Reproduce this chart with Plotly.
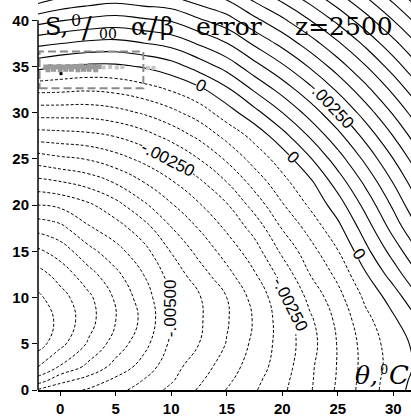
import numpy as np
import plotly.graph_objects as go

# Grid: potential temperature (deg C) columns, salinity (per mille) rows
theta = [-2, 0, 2.5, 5, 7.5, 10, 12.5, 15, 17.5, 20, 22.5, 25, 27.5, 30, 32]
salinity = [0, 1, 2.5, 5, 7.5, 10, 12.5, 15, 17.5, 20, 22.5, 25, 27.5, 30,
            32.5, 35, 37.5, 40, 42.5]

# alpha/beta error at z = 2500, units of 1e-3, one list per salinity row
err_s0 = [-5.95, -5.70, -5.45, -5.15, -4.80, -4.38, -3.95, -3.48, -3.05, -2.60, -2.05, -1.42, -0.775, -0.22, 0.175]
err_s1 = [-6.75, -6.125, -5.80, -5.375, -4.975, -4.55, -4.075, -3.60, -3.125, -2.65, -2.075, -1.45, -0.79, -0.25, 0.125]
err_s2p5 = [-7.50, -6.95, -6.375, -5.825, -5.30, -4.675, -4.25, -3.75, -3.25, -2.75, -2.10, -1.47, -0.825, -0.31, 0.05]
err_s5 = [-8.225, -7.65, -6.95, -6.275, -5.675, -4.90, -4.50, -3.975, -3.375, -2.80, -2.20, -1.47, -0.80, -0.26, 0.10]
err_s7p5 = [-8.30, -7.875, -7.20, -6.50, -5.875, -5.01, -4.575, -4.05, -3.45, -2.775, -2.10, -1.38, -0.65, -0.10, 0.40]
err_s10 = [-8.10, -7.70, -7.125, -6.425, -5.75, -5.00, -4.55, -4.00, -3.325, -2.675, -1.85, -1.175, -0.40, 0.225, 0.875]
err_s12p5 = [-7.70, -7.30, -6.70, -6.125, -5.50, -4.80, -4.225, -3.65, -3.05, -2.325, -1.50, -0.875, -0.05, 0.725, 1.40]
err_s15 = [-7.10, -6.775, -6.175, -5.675, -5.175, -4.475, -3.85, -3.30, -2.725, -1.90, -1.20, -0.525, 0.35, 1.20, 1.90]
err_s17p5 = [-6.35, -6.15, -5.575, -5.225, -4.725, -4.025, -3.475, -2.925, -2.325, -1.475, -0.825, -0.15, 0.735, 1.675, 2.425]
err_s20 = [-5.50, -5.40, -5.10, -4.675, -4.10, -3.55, -3.05, -2.55, -1.80, -1.05, -0.425, 0.25, 1.155, 2.09, 2.855]
err_s22p5 = [-4.65, -4.525, -4.30, -3.95, -3.50, -3.05, -2.60, -2.00, -1.30, -0.65, -0.10, 0.73, 1.615, 2.525, 3.265]
err_s25 = [-3.75, -3.60, -3.475, -3.20, -2.875, -2.50, -2.00, -1.425, -0.80, -0.275, 0.445, 1.265, 2.12, 2.995, 3.715]
err_s27p5 = [-2.75, -2.70, -2.625, -2.475, -2.20, -1.82, -1.385, -0.85, -0.345, 0.31, 1.055, 1.84, 2.66, 3.51, 4.21]
err_s30 = [-1.80, -1.80, -1.80, -1.675, -1.45, -1.14, -0.765, -0.24, 0.33, 0.99, 1.695, 2.445, 3.235, 4.055, 4.725]
err_s32p5 = [-0.875, -0.90, -0.95, -0.875, -0.70, -0.46, -0.125, 0.40, 1.065, 1.69, 2.36, 3.08, 3.84, 4.625, 5.28]
err_s35 = [0.15, 0.00, -0.10, -0.10, 0.04, 0.275, 0.70, 1.185, 1.815, 2.41, 3.05, 3.74, 4.465, 5.225, 5.86]
err_s37p5 = [1.125, 1.01, 0.885, 0.84, 0.98, 1.17, 1.555, 1.98, 2.585, 3.145, 3.76, 4.42, 5.115, 5.85, 6.46]
err_s40 = [2.20, 2.025, 1.89, 1.80, 1.92, 2.045, 2.425, 2.79, 3.365, 3.90, 4.49, 5.12, 5.79, 6.50, 7.09]
err_s42p5 = [3.30, 3.035, 2.86, 2.75, 2.865, 2.95, 3.295, 3.60, 4.16, 4.67, 5.23, 5.835, 6.48, 7.165, 7.735]

# Observed water-mass points (theta, S) and the highlighted sample
obs_theta = [-1.3, -0.9, -0.5, -0.1, 0.3, 0.7, 1.1, 1.5, 1.9, 2.3, 2.7, 3.1, 3.5,
             -1.1, -0.6, 0.0, 0.5, 1.0, 1.6, 2.1, 2.6, 3.2]
obs_sal = [34.95, 35.0, 34.95, 35.0, 34.95, 35.0, 34.95, 35.0, 35.05, 34.95, 35.0, 34.95, 35.0,
           34.65, 34.7, 34.65, 34.7, 34.7, 34.65, 34.7, 34.7, 34.65]
faint_theta = [3.9, 4.5, 5.1, 5.6, 7.9, 8.4]
faint_sal = [34.9, 34.95, 34.9, 34.95, 34.85, 34.85]
sample_theta = [0.07]
sample_sal = [34.23]

# Region enclosing the observations
box_theta = [-1.86, 7.49]
box_sal = [32.65, 36.63]

# Contour levels
level_step = 0.0005
neg_range = [-0.008, -0.0005]
pos_range = [0.0, 0.0075]

# Inline contour labels: text, theta, S, rotation (deg)
contour_labels = [
    ("0", 12.6, 32.9, 27),
    (".00250", 24.6, 30.6, 47),
    ("-.00250", 9.74, 24.95, 27),
    ("0", 20.97, 25.13, 45),
    ("0", 26.86, 14.72, 56),
    ("-.00500", 9.94, 8.81, -90),
    ("-.00250", 20.7, 9.24, 63),
]

rows = [err_s0, err_s1, err_s2p5, err_s5, err_s7p5, err_s10, err_s12p5, err_s15,
        err_s17p5, err_s20, err_s22p5, err_s25, err_s27p5, err_s30, err_s32p5,
        err_s35, err_s37p5, err_s40, err_s42p5]
z = np.array(rows) * 1e-3

W, H = 411, 417
ML, MB = 38, 24
PW, PH = W - ML, H - MB


def to_paper(x, y):
    return (x - ML) / PW, (H - MB - y) / PH


fig = go.Figure()

# Negative error: dashed isolines
fig.add_trace(go.Contour(
    x=theta, y=salinity, z=z, autocontour=False,
    contours=dict(start=neg_range[0], end=neg_range[1], size=level_step,
                  coloring="none", showlabels=False),
    line=dict(color="black", width=1, dash="3px,2px", smoothing=1.3),
    showscale=False, hoverinfo="skip"))

# Zero and positive error: solid isolines
fig.add_trace(go.Contour(
    x=theta, y=salinity, z=z, autocontour=False,
    contours=dict(start=pos_range[0], end=pos_range[1], size=level_step,
                  coloring="none", showlabels=False),
    line=dict(color="black", width=1.1, smoothing=1.3),
    showscale=False, hoverinfo="skip"))

# Observations
fig.add_trace(go.Scatter(x=faint_theta, y=faint_sal, mode="markers",
                         marker=dict(symbol="square", size=4, color="#c4c4c4"),
                         hoverinfo="skip"))
fig.add_trace(go.Scatter(x=obs_theta, y=obs_sal, mode="markers",
                         marker=dict(symbol="square", size=5, color="#9a9a9a"),
                         hoverinfo="skip"))
fig.add_trace(go.Scatter(x=sample_theta, y=sample_sal, mode="markers",
                         marker=dict(symbol="square", size=3, color="black"),
                         hoverinfo="skip"))

shapes = [
    dict(type="rect", xref="x", yref="y",
         x0=box_theta[0], x1=box_theta[1], y0=box_sal[0], y1=box_sal[1],
         line=dict(color="#8a8a8a", width=2, dash="8px,4px")),
    dict(type="line", xref="paper", yref="y", x0=0, x1=0, y0=0, y1=40,
         line=dict(color="black", width=1.5)),
]

annotations = []

for txt, tx, sy, ang in contour_labels:
    annotations.append(dict(
        x=tx, y=sy, xref="x", yref="y", text=txt, showarrow=False,
        textangle=ang, xanchor="center", yanchor="middle",
        font=dict(family="Liberation Sans", size=17, color="black"),
        bgcolor="white", borderpad=0, borderwidth=0))

SERIF = "DejaVu Serif"


def text_px(txt, x_left, baseline, size, italic=False):
    mid = baseline - 0.346 * size
    xp, yp = to_paper(x_left, mid)
    annotations.append(dict(
        x=xp, y=yp, xref="paper", yref="paper", text=txt, showarrow=False,
        xanchor="left", yanchor="middle", borderpad=0, borderwidth=0,
        font=dict(family=SERIF, size=size, color="black",
                  style="italic" if italic else "normal")))


# Heading: S, per mille, alpha/beta error, depth
text_px("S,", 45, 35.5, 24)
text_px("0", 71, 26.5, 16)
text_px("/", 82, 38, 29)
text_px("00", 99, 39, 14)
text_px("α", 131, 35.5, 24)
text_px("/", 148, 38, 29)
text_px("β", 160, 35.5, 24)
text_px("error", 196, 35.5, 25)
text_px("z=2500", 295, 35.5, 25)

# Temperature axis name
text_px("θ,", 355, 387, 25, italic=True)
text_px("0", 380, 377, 13)
text_px("C", 389, 387, 26, italic=True)

tick_font = dict(family="Liberation Sans", size=15, color="black", weight="bold")

fig.update_layout(
    width=W, height=H,
    margin=dict(l=ML, r=0, t=0, b=MB, pad=0),
    paper_bgcolor="white", plot_bgcolor="white",
    showlegend=False,
    shapes=shapes, annotations=annotations,
    xaxis=dict(range=[-2, 31.6], tickvals=[0, 5, 10, 15, 20, 25, 30],
               ticks="outside", ticklen=4, tickwidth=1.2, tickcolor="black",
               showline=True, linecolor="black", linewidth=1.5,
               showgrid=False, zeroline=False, tickfont=tick_font),
    yaxis=dict(range=[0, 42.2], tickvals=[0, 5, 10, 15, 20, 25, 30, 35, 40],
               ticks="outside", ticklen=5, tickwidth=1.2, tickcolor="black",
               showline=False, showgrid=False, zeroline=False,
               tickfont=tick_font),
)

fig.write_html("out.html")
